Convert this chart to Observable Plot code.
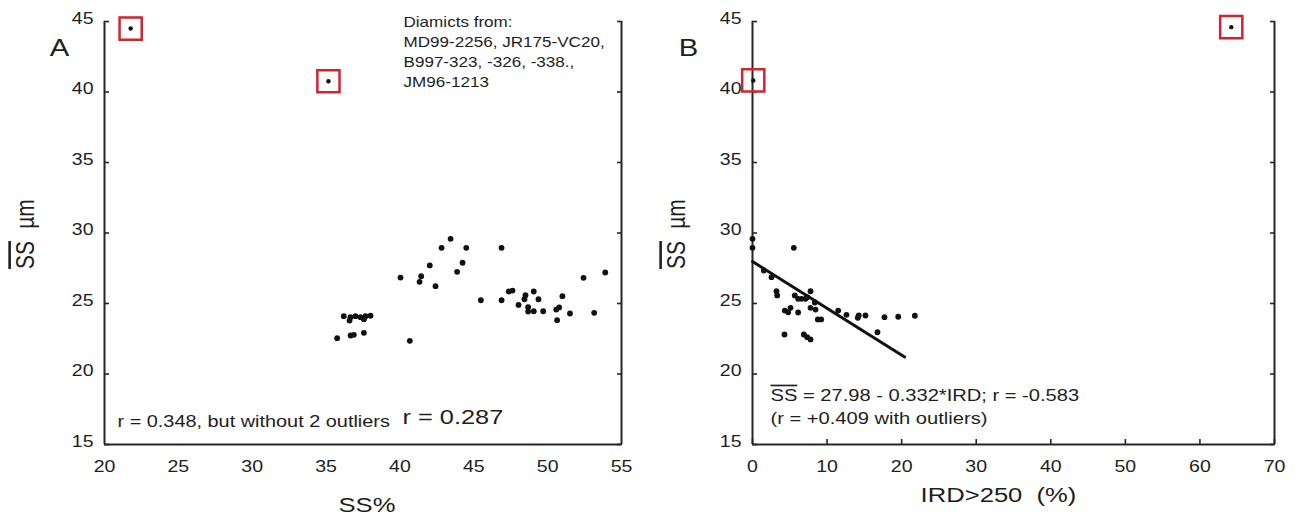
<!DOCTYPE html>
<html><head><meta charset="utf-8">
<script src="https://cdn.jsdelivr.net/npm/d3@7"></script>
<script src="https://cdn.jsdelivr.net/npm/@observablehq/plot@0.6"></script>
<style>
body{margin:0;background:#fff;}
#wrap{display:flex;width:1296px;height:519px;}
#wrap svg{display:block;}
svg text{font-family:"Liberation Sans",Arial,sans-serif;}
</style></head><body><div id="wrap"></div>
<script>
// ---- Panel A: mean sortable silt vs SS% ----
const ssPct = [43.43,42.82,44.49,46.88,42.02,44.24,43.87,40.04,41.44,41.33,42.41,52.43,53.9,45.48,46.88,47.37,47.62,48.5,48.43,49.06,49.38,48.03,48.68,48.68,49.06,49.7,51.0,50.58,50.78,51.51,50.64,53.15,36.2,36.65,36.99,37.33,37.67,38.01,36.59,37.56,35.75,36.66,36.88,37.56,40.67];
const ssMeanA = [29.59,28.95,28.95,28.95,27.7,27.89,27.25,26.84,26.94,26.54,26.23,26.82,27.2,25.23,25.23,25.85,25.92,25.59,25.3,25.85,25.3,24.9,24.74,24.43,24.45,24.45,25.52,24.57,24.72,24.29,23.82,24.34,24.1,24.03,24.1,24.03,24.1,24.13,23.79,23.89,22.54,22.73,22.78,22.92,22.35];
const outlierSsPct = [21.77, 35.16];
const outlierSsMeanA = [44.5, 40.76];

// ---- Panel B: mean sortable silt vs IRD>250 ----
const ird = [0,0,5.54,1.52,2.55,3.22,3.31,7.78,5.67,6.12,6.57,7.1,7.33,8.36,4.33,5.1,4.79,6.12,7.78,8.45,8.76,9.21,11.49,12.6,14.12,14.25,15.15,17.7,19.54,21.77,16.76,4.29,6.88,7.33,7.78];
const ssMeanB = [29.59,28.95,28.95,27.34,26.87,25.87,25.57,25.87,25.57,25.33,25.33,25.33,25.45,25.07,24.5,24.69,24.38,24.36,24.69,24.57,23.87,23.87,24.5,24.2,23.99,24.15,24.15,24.03,24.06,24.13,22.96,22.8,22.8,22.61,22.45];
const outlierIrd = [0.1, 64.2];
const outlierSsMeanB = [40.82, 44.6];
const fitIrd = [0, 20.4];
const fitSsMean = [27.98, 21.21];

// ---- axes ----
const yTicks = [15,20,25,30,35,40,45];
const xTicksA = [20,25,30,35,40,45,50,55];
const xTicksB = [0,10,20,30,40,50,60,70];

const ink = "#1e1e1e";
const frameColor = "#262626";
const red = "#d2232e";

const toRows = (xs, ys) => xs.map((x, i) => ({x, y: ys[i]}));

function frameMarks(xTicks, bottomTicks) {
  const xd = [xTicks[0], xTicks[xTicks.length - 1]];
  return [
    Plot.ruleX(xd, {stroke: frameColor, strokeWidth: 2}),
    Plot.ruleY([yTicks[0]], {stroke: frameColor, strokeWidth: 2}),
    Plot.axisY({ticks: yTicks, tickSize: 0, tickPadding: 11, dy: -3, fontSize: 16, fill: ink, label: null}),
    Plot.axisY({ticks: yTicks, tickSize: -5, tickFormat: () => "", stroke: frameColor, strokeWidth: 1.6, label: null}),
    Plot.axisY({anchor: "right", ticks: yTicks, tickSize: -5, tickFormat: () => "", stroke: frameColor, strokeWidth: 1.6, label: null}),
    Plot.axisX({ticks: xTicks, tickSize: 0, tickPadding: 16, fontSize: 16, fill: ink, label: null}),
    ...(bottomTicks ? [Plot.axisX({ticks: xTicks, tickSize: -5, tickFormat: () => "", stroke: frameColor, strokeWidth: 1.6, label: null})] : [])
  ];
}

function yLabel(dx) {
  return [
    Plot.text(["SS"], {frameAnchor: "left", dx, dy: 22, rotate: -90, textAnchor: "middle", lineAnchor: "bottom", fontSize: 21, fill: ink, className: "ovl"}),
    Plot.text(["µm"], {frameAnchor: "left", dx, dy: -19, rotate: -90, textAnchor: "middle", lineAnchor: "bottom", fontSize: 21, fill: ink})
  ];
}

function stretch(svg, s) {
  d3.select(svg).selectAll("text").each(function() {
    const t = this.getAttribute("transform") || "";
    const m = /translate\(\s*([-\d.e]+)[\s,]+([-\d.e]+)\s*\)/.exec(t);
    let ax = m ? +m[1] : (parseFloat(this.getAttribute("x")) || 0);
    const g = document.createElementNS("http://www.w3.org/2000/svg", "g");
    g.setAttribute("transform", `translate(${ax},0) scale(${s},1) translate(${-ax},0)`);
    this.parentNode.insertBefore(g, this);
    g.appendChild(this);
  });
}

const common = {width: 648, height: 519, marginTop: 21, marginBottom: 75, style: {background: "#fff", overflow: "visible"}};

const chartA = Plot.plot({
  ...common,
  marginLeft: 104, marginRight: 27,
  x: {domain: [xTicksA[0], xTicksA[xTicksA.length - 1]]},
  y: {domain: [yTicks[0], yTicks[yTicks.length - 1]]},
  marks: [
    ...frameMarks(xTicksA, false),
    Plot.dot(toRows(ssPct, ssMeanA), {x: "x", y: "y", r: 2.9, fill: "#111"}),
    Plot.dot(toRows(outlierSsPct, outlierSsMeanA), {x: "x", y: "y", r: 2.2, fill: "#111"}),
    Plot.dot(toRows(outlierSsPct, outlierSsMeanA), {x: "x", y: "y", symbol: "square", r: 12.5, stroke: red, strokeWidth: 2.5, fill: "none"}),
    Plot.text(["A"], {frameAnchor: "top-left", dx: -45, dy: 27, textAnchor: "middle", lineAnchor: "middle", fontSize: 24, fill: ink}),
    Plot.text(["Diamicts from:\nMD99-2256, JR175-VC20,\nB997-323, -326, -338.,\nJM96-1213"], {frameAnchor: "top-left", dx: 299, dy: 29, textAnchor: "start", lineAnchor: "middle", lineHeight: 1.43, fontSize: 14, fill: ink}),
    Plot.text(["r = 0.348, but without 2 outliers"], {frameAnchor: "bottom-left", dx: 13, dy: -23, textAnchor: "start", lineAnchor: "middle", fontSize: 16.3, fill: ink}),
    Plot.text(["r = 0.287"], {frameAnchor: "bottom-left", dx: 298, dy: -27, textAnchor: "start", lineAnchor: "middle", fontSize: 20.8, fill: ink}),
    Plot.text(["SS%"], {frameAnchor: "bottom", dx: 4, dy: 61, textAnchor: "middle", lineAnchor: "middle", fontSize: 21, fill: ink}),
    ...yLabel(-71)
  ]
});

const chartB = Plot.plot({
  ...common,
  marginLeft: 104, marginRight: 22,
  x: {domain: [xTicksB[0], xTicksB[xTicksB.length - 1]]},
  y: {domain: [yTicks[0], yTicks[yTicks.length - 1]]},
  marks: [
    ...frameMarks(xTicksB, true),
    Plot.line(toRows(fitIrd, fitSsMean), {x: "x", y: "y", stroke: "#111", strokeWidth: 3}),
    Plot.dot(toRows(ird, ssMeanB), {x: "x", y: "y", r: 2.9, fill: "#111"}),
    Plot.dot(toRows(outlierIrd, outlierSsMeanB), {x: "x", y: "y", r: 2.2, fill: "#111"}),
    Plot.dot(toRows(outlierIrd, outlierSsMeanB), {x: "x", y: "y", symbol: "square", r: 12.5, stroke: red, strokeWidth: 2.5, fill: "none"}),
    Plot.text(["B"], {frameAnchor: "top-left", dx: -64, dy: 27, textAnchor: "middle", lineAnchor: "middle", fontSize: 24, fill: ink}),
    Plot.text(["SS = 27.98 - 0.332*IRD; r = -0.583"], {frameAnchor: "bottom-left", dx: 18, dy: -49, textAnchor: "start", lineAnchor: "middle", fontSize: 16.5, fill: ink, className: "eq"}),
    Plot.text(["(r = +0.409 with outliers)"], {frameAnchor: "bottom-left", dx: 18, dy: -26, textAnchor: "start", lineAnchor: "middle", fontSize: 16.5, fill: ink}),
    Plot.text(["IRD>250  (%)"], {frameAnchor: "bottom", dx: -15, dy: 51, textAnchor: "middle", lineAnchor: "middle", fontSize: 21, fill: ink}),
    ...yLabel(-68)
  ]
});

for (const svg of [chartA, chartB]) {
  d3.select(svg).selectAll(".ovl text")
    .style("text-decoration", "overline")
    .style("text-decoration-thickness", "3px");
  d3.select(svg).selectAll(".eq text").each(function() {
    const s = this.textContent;
    this.textContent = "";
    d3.select(this).append("tspan").text(s.slice(0, 2)).style("text-decoration", "overline").style("text-decoration-thickness", "1.5px");
    d3.select(this).append("tspan").text(s.slice(2));
  });
  stretch(svg, 1.22);
}

document.getElementById("wrap").append(chartA, chartB);
</script>
</body></html>
